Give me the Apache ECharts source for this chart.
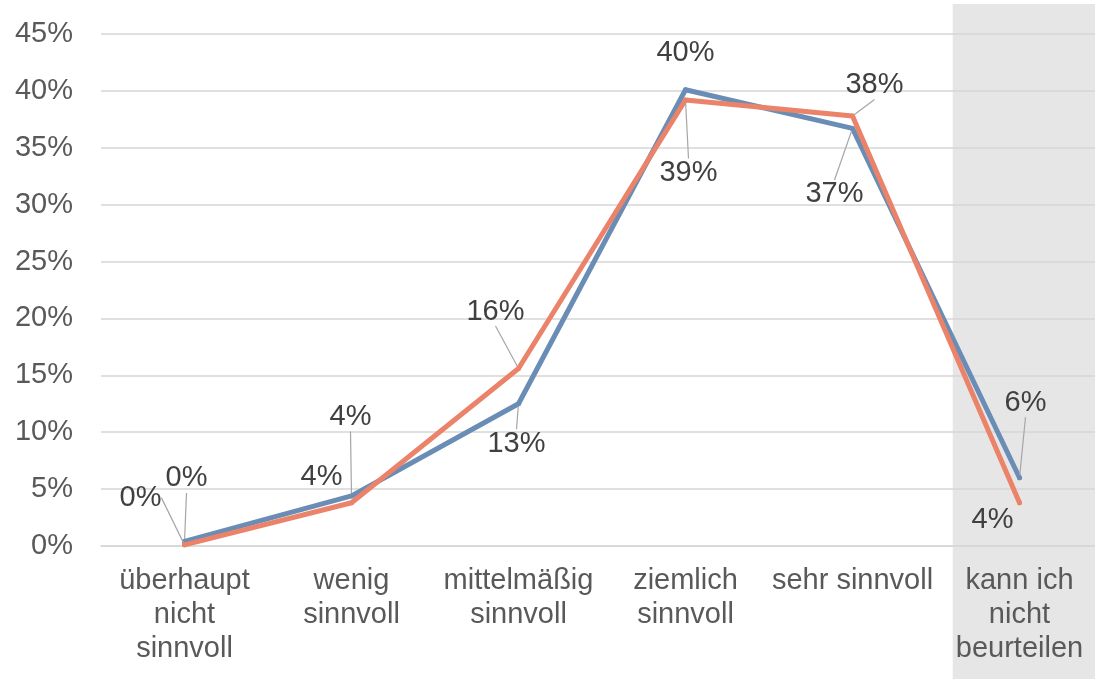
<!DOCTYPE html>
<html>
<head>
<meta charset="utf-8">
<script src="https://cdn.jsdelivr.net/npm/echarts@6/dist/echarts.min.js"></script>
<style>
html,body{margin:0;padding:0;background:#fff;}
#chart{width:1095px;height:679px;}
</style>
</head>
<body>
<div id="chart"></div>
<script>
var categories = ['überhaupt\nnicht\nsinnvoll', 'wenig\nsinnvoll', 'mittelmäßig\nsinnvoll', 'ziemlich\nsinnvoll', 'sehr sinnvoll', 'kann ich\nnicht\nbeurteilen'];
var seriesBlue = [0.4, 4.4, 12.5, 40.1, 36.7, 6.0];
var seriesOrange = [0.1, 3.8, 15.6, 39.2, 37.8, 3.8];
var yTicks = [0, 5, 10, 15, 20, 25, 30, 35, 40, 45];

var FONT = "'Liberation Sans', Arial, sans-serif";
// label offsets (px) relative to the point, and whether a leader line is shown
var labelStyle = {
  0: { off: [[2, -63], [-1, -79], [-2, 40], [0, -37], [-18, 66], [6, -75]], leader: [true, true, true, false, true, true] },
  1: { off: [[-44, -47], [-30, -26], [-23, -57], [3, 73], [22, -31], [-27, 17]], leader: [true, false, true, true, true, false] }
};

function buildData(vals, si) {
  return vals.map(function (v, i) {
    return { value: v, labelLine: { show: labelStyle[si].leader[i] } };
  });
}

function layoutFn(params) {
  var st = labelStyle[params.seriesIndex];
  if (!st) return {};
  var o = st.off[params.dataIndex];
  var cx = params.rect.x + params.rect.width / 2;
  var cy = params.rect.y + params.rect.height / 2;
  return { x: cx + o[0], y: cy + o[1], align: 'center', verticalAlign: 'middle' };
}

var labelCommon = {
  show: true,
  fontFamily: FONT,
  fontSize: 29,
  color: '#404040',
  formatter: function (p) { return Math.round(p.value) + '%'; }
};
var leaderCommon = { show: true, lineStyle: { color: '#a6a6a6', width: 1.2 }, length2: 0, smooth: false };

var chart = echarts.init(document.getElementById('chart'), null, { renderer: 'canvas' });
chart.setOption({
  animation: false,
  backgroundColor: '#ffffff',
  grid: [
    { left: 101, width: 1002, top: 34, bottom: 133, containLabel: false, outerBoundsMode: 'none' },
    { left: 101, width: 1002, top: 4, bottom: 0, containLabel: false, outerBoundsMode: 'none' }
  ],
  xAxis: [
    {
      type: 'category',
      data: categories,
      gridIndex: 0,
      boundaryGap: true,
      zlevel: 1,
      axisLine: { show: true, lineStyle: { color: '#d6d6d6', width: 1.5 } },
      axisTick: { show: false },
      axisLabel: { fontFamily: FONT, fontSize: 29, color: '#595959', lineHeight: 34, margin: 18, interval: 0 }
    },
    {
      type: 'value', gridIndex: 1, min: -0.5, max: 5.5, show: false
    }
  ],
  yAxis: [
    {
      type: 'value',
      gridIndex: 0,
      min: yTicks[0],
      max: yTicks[yTicks.length - 1],
      interval: yTicks[1] - yTicks[0],
      zlevel: 1,
      axisLine: { show: false },
      axisTick: { show: false },
      splitLine: { show: true, lineStyle: { color: '#d6d6d6', width: 1.5 } },
      axisLabel: { fontFamily: FONT, fontSize: 29, color: '#595959', margin: 28, formatter: '{value}%' }
    },
    { type: 'value', gridIndex: 1, min: 0, max: 1, show: false }
  ],
  series: [
    {
      name: 'A',
      type: 'line',
      xAxisIndex: 0, yAxisIndex: 0,
      data: buildData(seriesBlue, 0),
      symbol: 'circle', symbolSize: 5, showSymbol: true,
      itemStyle: { color: '#6A8DB5' },
      lineStyle: { color: '#6A8DB5', width: 5, join: 'round', cap: 'round' },
      label: labelCommon,
      labelLine: leaderCommon,
      labelLayout: layoutFn,
      zlevel: 1,
      z: 3
    },
    {
      name: 'B',
      type: 'line',
      xAxisIndex: 0, yAxisIndex: 0,
      data: buildData(seriesOrange, 1),
      symbol: 'circle', symbolSize: 5, showSymbol: true,
      itemStyle: { color: '#EA8369' },
      lineStyle: { color: '#EA8369', width: 5, join: 'round', cap: 'round' },
      label: labelCommon,
      labelLine: leaderCommon,
      labelLayout: layoutFn,
      zlevel: 1,
      z: 4
    },
    {
      name: 'band',
      type: 'line',
      xAxisIndex: 1, yAxisIndex: 1,
      data: [],
      zlevel: -1,
      silent: true,
      markArea: {
        silent: true,
        zlevel: -1,
        itemStyle: { color: '#e6e6e6' },
        data: [[{ xAxis: 4.6, yAxis: 0 }, { xAxis: 5.5, yAxis: 1 }]]
      }
    }
  ]
});
</script>
</body>
</html>
